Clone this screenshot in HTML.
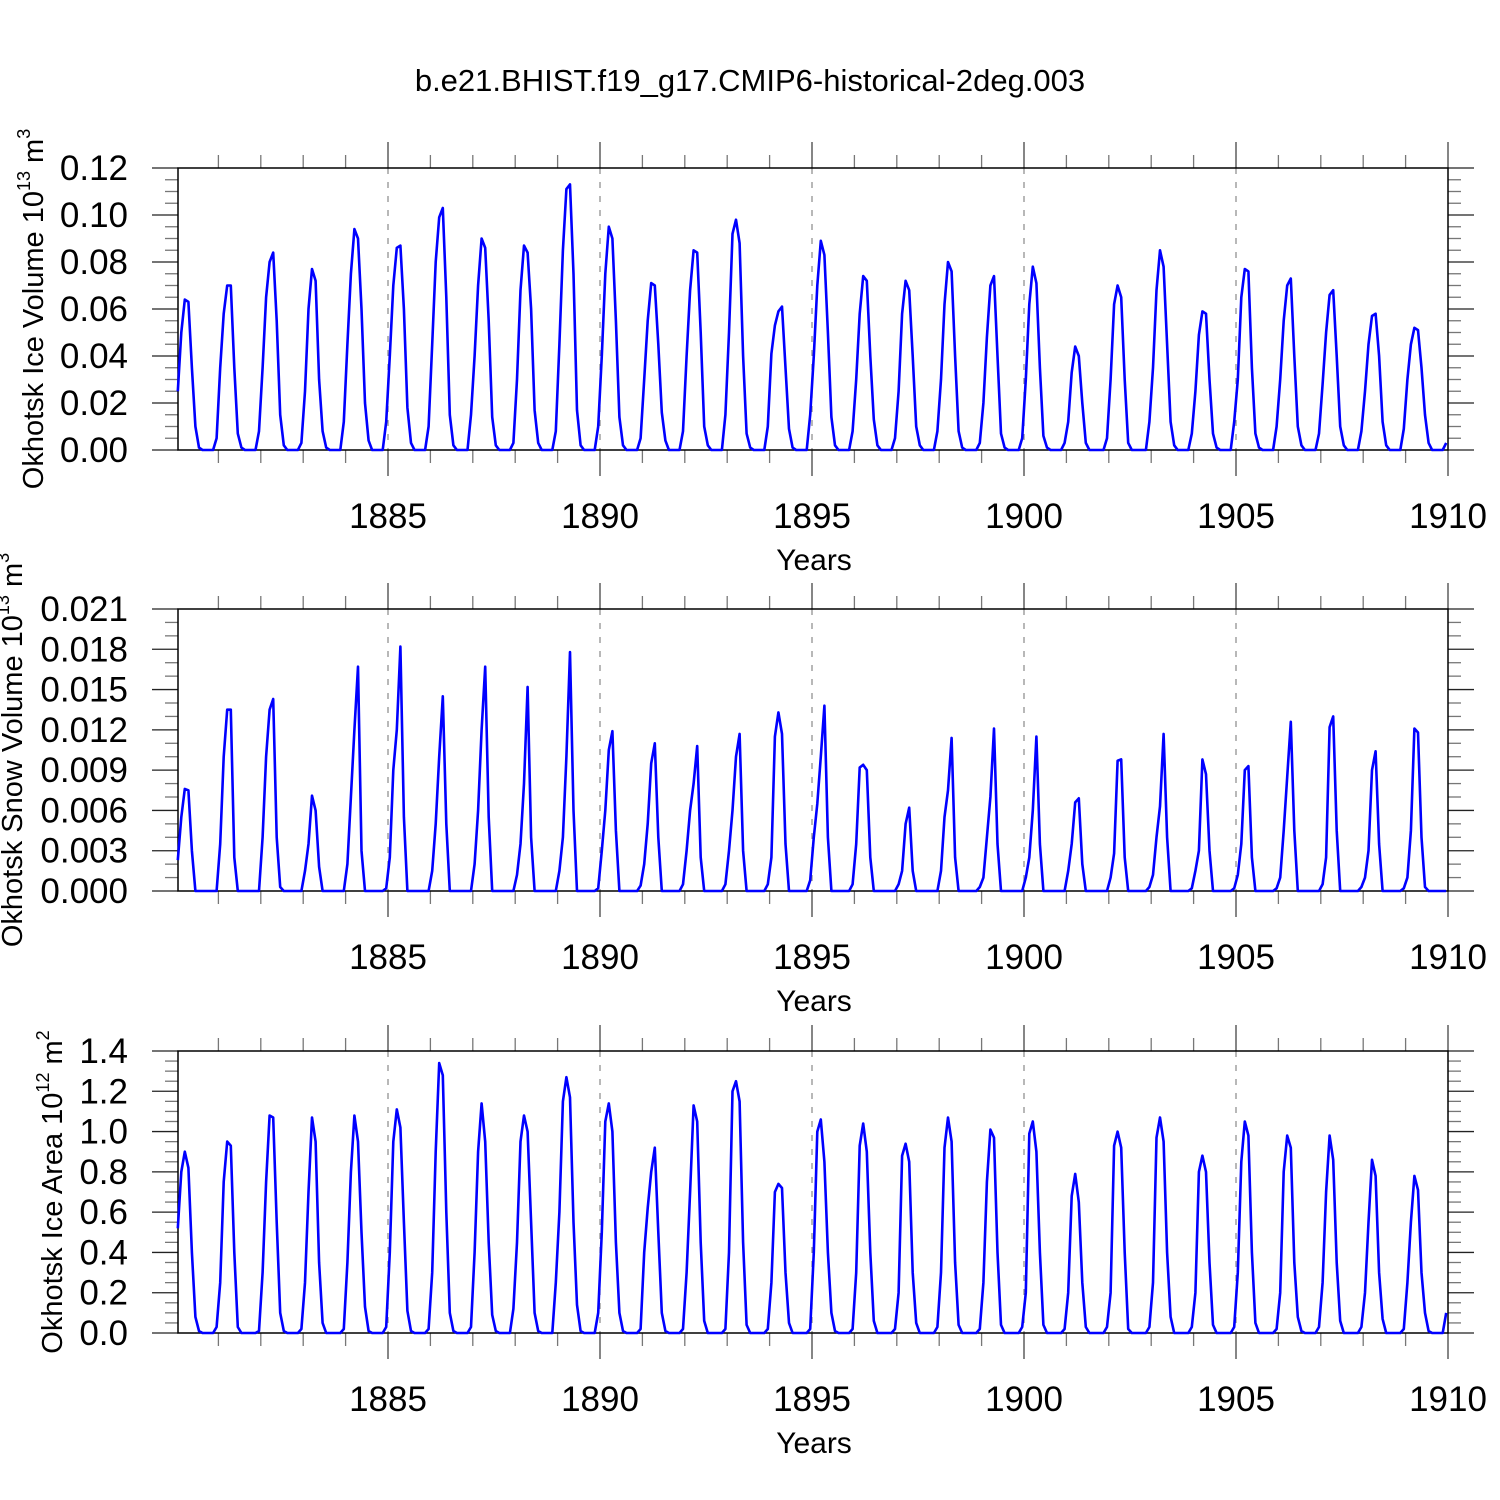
<!DOCTYPE html>
<html><head><meta charset="utf-8"><style>
html,body{margin:0;padding:0;background:#fff}
svg{display:block}
text{font-family:"Liberation Sans",Arial,sans-serif;fill:#000}
</style></head><body>
<svg id="chart" width="1500" height="1500" viewBox="0 0 1500 1500" xmlns="http://www.w3.org/2000/svg">
<text x="750" y="91" font-size="31" text-anchor="middle">b.e21.BHIST.f19_g17.CMIP6-historical-2deg.003</text>
</svg>
<script>
const startYear = 1880;
const years = [1880,1881,1882,1883,1884,1885,1886,1887,1888,1889,1890,1891,1892,1893,1894,1895,1896,1897,1898,1899,1900,1901,1902,1903,1904,1905,1906,1907,1908,1909];
const xTickLabels = ["1885","1890","1895","1900","1905","1910"];
const xTickValues = [1885,1890,1895,1900,1905,1910];

const iceVolume = [
.025,.050,.064,.063,.035,.010,.001,0,0,0,0,.005,
.035,.058,.070,.070,.035,.007,.001,0,0,0,0,.008,
.035,.065,.080,.084,.055,.015,.002,0,0,0,0,.003,
.025,.060,.077,.072,.030,.008,.001,0,0,0,0,.012,
.045,.075,.094,.090,.060,.020,.004,0,0,0,0,.012,
.040,.070,.086,.087,.060,.018,.003,0,0,0,0,.010,
.045,.080,.099,.103,.065,.015,.002,0,0,0,0,.015,
.040,.070,.090,.086,.055,.014,.002,0,0,0,0,.003,
.030,.068,.087,.084,.060,.017,.003,0,0,0,0,.008,
.045,.085,.111,.113,.075,.017,.002,0,0,0,0,.010,
.040,.075,.095,.090,.055,.014,.002,0,0,0,0,.005,
.030,.055,.071,.070,.045,.016,.004,0,0,0,0,.008,
.040,.068,.085,.084,.050,.010,.002,0,0,0,0,.015,
.050,.092,.098,.088,.040,.007,.001,0,0,0,0,.010,
.041,.053,.059,.061,.035,.009,.001,0,0,0,0,.015,
.040,.070,.089,.083,.050,.014,.002,0,0,0,0,.008,
.030,.058,.074,.072,.040,.013,.002,0,0,0,0,.005,
.025,.058,.072,.068,.040,.010,.002,0,0,0,0,.008,
.030,.062,.080,.076,.040,.008,.001,0,0,0,0,.003,
.020,.048,.070,.074,.040,.007,.001,0,0,0,0,.005,
.030,.062,.078,.071,.035,.006,.001,0,0,0,0,.003,
.012,.033,.044,.040,.020,.003,0,0,0,0,0,.005,
.030,.062,.070,.065,.030,.003,0,0,0,0,0,.012,
.035,.068,.085,.078,.045,.012,.002,0,0,0,0,.007,
.025,.049,.059,.058,.030,.007,.001,0,0,0,0,.012,
.030,.065,.077,.076,.035,.007,.001,0,0,0,0,.010,
.030,.055,.070,.073,.040,.010,.002,0,0,0,0,.007,
.028,.050,.066,.068,.040,.010,.002,0,0,0,0,.008,
.025,.045,.057,.058,.040,.012,.002,0,0,0,0,.009,
.030,.045,.052,.051,.035,.015,.003,0,0,0,0,.003];

const snowVolume = [
.0023,.0055,.0076,.0075,.0030,0,0,0,0,0,0,0,
.0035,.0100,.0135,.0135,.0025,0,0,0,0,0,0,0,
.0040,.0100,.0135,.0143,.0040,.0003,0,0,0,0,0,0,
.0015,.0035,.0071,.0060,.0018,0,0,0,0,0,0,0,
.0020,.0070,.0120,.0167,.0030,0,0,0,0,0,0,.0002,
.0025,.0090,.0120,.0182,.0055,0,0,0,0,0,0,0,
.0015,.0050,.0100,.0145,.0050,0,0,0,0,0,0,0,
.0020,.0060,.0120,.0167,.0055,0,0,0,0,0,0,0,
.0012,.0035,.0080,.0152,.0040,0,0,0,0,0,0,0,
.0015,.0040,.0100,.0178,.0060,0,0,0,0,0,0,.0002,
.0030,.0060,.0105,.0119,.0045,0,0,0,0,0,0,.0004,
.0020,.0050,.0095,.0110,.0040,0,0,0,0,0,0,.0005,
.0030,.0060,.0080,.0108,.0025,0,0,0,0,0,0,.0005,
.0030,.0060,.0100,.0117,.0030,0,0,0,0,0,0,.0005,
.0025,.0115,.0133,.0117,.0035,0,0,0,0,0,0,.0008,
.0040,.0065,.0100,.0138,.0040,0,0,0,0,0,0,.0005,
.0035,.0092,.0094,.0090,.0025,0,0,0,0,0,0,0,
.0005,.0015,.0050,.0062,.0015,0,0,0,0,0,0,0,
.0015,.0055,.0075,.0114,.0025,0,0,0,0,0,0,.0003,
.0010,.0040,.0070,.0121,.0035,0,0,0,0,0,0,0,
.0010,.0025,.0060,.0115,.0035,0,0,0,0,0,0,0,
.0015,.0035,.0066,.0069,.0020,0,0,0,0,0,0,0,
.0010,.0028,.0097,.0098,.0025,0,0,0,0,0,0,.0003,
.0012,.0040,.0063,.0117,.0040,0,0,0,0,0,0,.0002,
.0015,.0030,.0098,.0087,.0030,0,0,0,0,0,0,.0002,
.0012,.0035,.0090,.0093,.0025,0,0,0,0,0,0,.0002,
.0010,.0045,.0085,.0126,.0045,0,0,0,0,0,0,0,
.0005,.0025,.0122,.0130,.0045,0,0,0,0,0,0,.0003,
.0010,.0030,.0090,.0104,.0035,0,0,0,0,0,0,.0002,
.0010,.0045,.0121,.0118,.0040,.0003,0,0,0,0,0,0];

const iceArea = [
.52,.80,.90,.82,.40,.08,.01,0,0,0,0,.03,
.25,.75,.95,.93,.40,.03,0,0,0,0,0,.01,
.30,.75,1.08,1.07,.55,.10,.01,0,0,0,0,.02,
.25,.70,1.07,.95,.35,.05,0,0,0,0,0,.02,
.35,.80,1.08,.95,.50,.13,.01,0,0,0,0,.03,
.40,.95,1.11,1.02,.55,.11,.01,0,0,0,0,.02,
.30,.90,1.34,1.28,.60,.10,.01,0,0,0,0,.03,
.40,.90,1.14,.95,.45,.09,.01,0,0,0,0,.12,
.45,.95,1.08,1.00,.55,.10,.01,0,0,0,0,.25,
.60,1.15,1.27,1.17,.55,.14,.01,0,0,0,0,.10,
.50,1.05,1.14,1.00,.45,.10,.01,0,0,0,0,.02,
.40,.62,.80,.92,.50,.10,.01,0,0,0,0,.02,
.30,.70,1.13,1.05,.45,.06,0,0,0,0,0,.02,
.40,1.20,1.25,1.15,.45,.04,0,0,0,0,0,.02,
.25,.70,.74,.72,.30,.05,0,0,0,0,0,.02,
.40,1.00,1.06,.85,.40,.10,.01,0,0,0,0,.02,
.30,.93,1.04,.90,.40,.06,0,0,0,0,0,.02,
.20,.88,.94,.85,.30,.05,0,0,0,0,0,.03,
.30,.92,1.07,.95,.35,.04,0,0,0,0,0,.02,
.25,.75,1.01,.97,.40,.04,0,0,0,0,0,.03,
.20,.99,1.05,.90,.40,.04,0,0,0,0,0,.02,
.20,.68,.79,.65,.25,.03,0,0,0,0,0,.03,
.20,.93,1.00,.92,.40,.02,0,0,0,0,0,.03,
.25,.97,1.07,.95,.40,.08,0,0,0,0,0,.03,
.20,.80,.88,.80,.35,.04,0,0,0,0,0,.03,
.30,.85,1.05,.98,.40,.05,0,0,0,0,0,.02,
.20,.80,.98,.92,.35,.08,.01,0,0,0,0,.03,
.25,.70,.98,.86,.35,.06,0,0,0,0,0,.03,
.20,.55,.86,.78,.30,.07,0,0,0,0,0,.02,
.25,.55,.78,.71,.30,.10,.01,0,0,0,0,.10];

const volTickLabels = ["0.00","0.02","0.04","0.06","0.08","0.10","0.12"];
const snowTickLabels = ["0.000","0.003","0.006","0.009","0.012","0.015","0.018","0.021"];
const areaTickLabels = ["0.0","0.2","0.4","0.6","0.8","1.0","1.2","1.4"];

const NS = "http://www.w3.org/2000/svg";
const svg = document.getElementById('chart');
function mk(tag, attrs, parent){const e=document.createElementNS(NS,tag);for(const k in attrs)e.setAttribute(k,attrs[k]);(parent||svg).appendChild(e);return e;}
const L=178, R=1448;
function xs(t){return 176 + (t-1880)*42.4;}

function panel(cfg){
  const g=mk('g',{});
  
  
  const T=cfg.top, B=cfg.bottom;
  const ys=v=>B-(v-cfg.min)/(cfg.max-cfg.min)*(B-T);
  xTickValues.slice(0,5).forEach(v=>{
    const gl=mk('line',{x1:xs(v),x2:xs(v),y1:T,y2:B,stroke:'#888','stroke-width':1.2,'stroke-dasharray':'6,8'},g);
    
    
  });
  for(let yr=1881;yr<=1910;yr++){
    const major=yr%5===0; const len=major?26:13;
    mk('line',{x1:xs(yr),x2:xs(yr),y1:T,y2:T-len,stroke:major?'#444':'#777','stroke-width':1.3},g);
    mk('line',{x1:xs(yr),x2:xs(yr),y1:B,y2:B+len,stroke:major?'#444':'#777','stroke-width':1.3},g);
  }
  const nMaj=cfg.labels.length-1;
  const nMin=nMaj*cfg.sub;
  for(let i=0;i<=nMin;i++){
    const v=cfg.min+(cfg.max-cfg.min)*i/nMin; const y=ys(v); const major=i%cfg.sub===0; const len=major?26:13;
    mk('line',{x1:L,x2:L-len,y1:y,y2:y,stroke:major?'#222':'#777','stroke-width':1.3},g);
    mk('line',{x1:R,x2:R+len,y1:y,y2:y,stroke:major?'#222':'#777','stroke-width':1.3},g);
  }
  cfg.labels.forEach((lab,i)=>{
    const v=cfg.min+(cfg.max-cfg.min)*i/nMaj;
    const t=mk('text',{x:128,y:ys(v)+12,'font-size':35,'text-anchor':'end'},g);
    t.textContent=lab;
    
    
  });
  xTickLabels.forEach((lab,i)=>{
    const t=mk('text',{x:xs(xTickValues[i]),y:B+78,'font-size':35,'text-anchor':'middle'},g);
    t.textContent=lab;
    
    
  });
  const xt=mk('text',{x:814,y:B+120,'font-size':30,'text-anchor':'middle'},g);
  xt.textContent='Years';
  
  
  const yt=mk('text',{x:0,y:0,'font-size':29,'text-anchor':'middle',transform:`translate(${cfg.titleX},${(T+B)/2}) rotate(-90)`},g);
  
  
  yt.appendChild(document.createTextNode(cfg.title+' 10'));
  const s1=mk('tspan',{dy:-13,'font-size':18},yt); s1.textContent=cfg.exp;
  const s2=mk('tspan',{dy:13},yt); s2.textContent=' m';
  const s3=mk('tspan',{dy:-13,'font-size':18},yt); s3.textContent=cfg.unitExp;
  const fr=mk('rect',{x:L,y:T,width:R-L,height:B-T,fill:'none',stroke:'#000','stroke-width':1.5},g);
  
  
  let d='';
  cfg.data.forEach((v,i)=>{
    const t=startYear+(i+0.5)/12;
    d+=(i?'L':'M')+xs(t).toFixed(1)+','+ys(v).toFixed(1);
  });
  const p=mk('path',{d:d,fill:'none',stroke:'#0000ff','stroke-width':2.6,'stroke-linejoin':'round'},g);
  
  
}
panel({name:'ice-volume-panel',top:168,bottom:450,min:0,max:0.12,labels:volTickLabels,sub:4,data:iceVolume,title:'Okhotsk Ice Volume',exp:'13',unitExp:'3',titleX:43});
panel({name:'snow-volume-panel',top:609,bottom:891,min:0,max:0.021,labels:snowTickLabels,sub:3,data:snowVolume,title:'Okhotsk Snow Volume',exp:'13',unitExp:'3',titleX:22});
panel({name:'ice-area-panel',top:1051,bottom:1333,min:0,max:1.4,labels:areaTickLabels,sub:4,data:iceArea,title:'Okhotsk Ice Area',exp:'12',unitExp:'2',titleX:62});
</script>
</body></html>
